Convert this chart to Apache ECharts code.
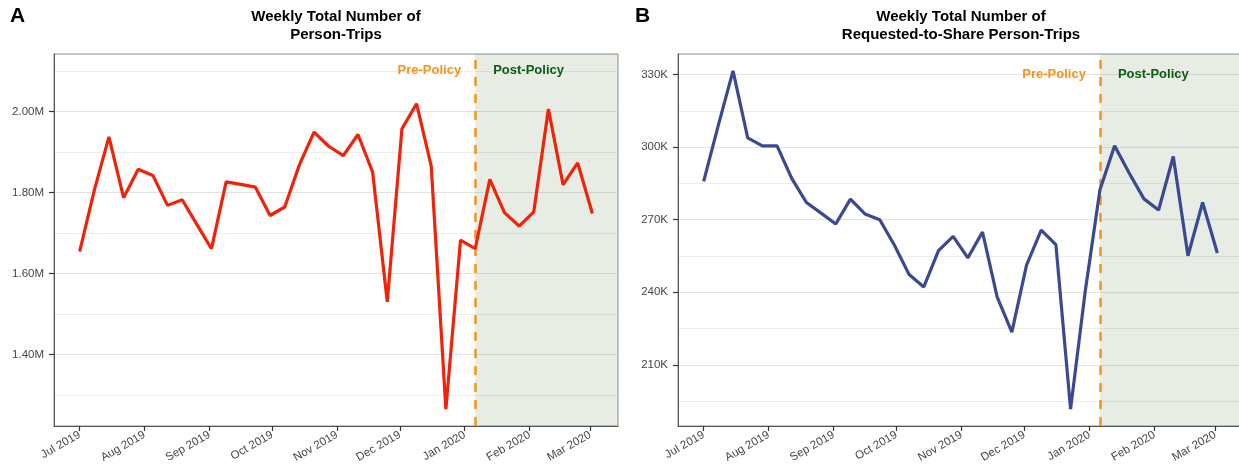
<!DOCTYPE html>
<html>
<head>
<meta charset="utf-8">
<script src="https://cdn.jsdelivr.net/npm/echarts@6/dist/echarts.min.js"></script>
<style>
  html, body { margin: 0; padding: 0; background: #ffffff; }
  #chart { width: 1239px; height: 471px; }
</style>
</head>
<body>
<div id="chart"></div>
<script>
// Week-starting dates (Mondays)
const weeks = [
  '2019-07-01','2019-07-08','2019-07-15','2019-07-22','2019-07-29',
  '2019-08-05','2019-08-12','2019-08-19','2019-08-26',
  '2019-09-02','2019-09-09','2019-09-16','2019-09-23','2019-09-30',
  '2019-10-07','2019-10-14','2019-10-21','2019-10-28',
  '2019-11-04','2019-11-11','2019-11-18','2019-11-25',
  '2019-12-02','2019-12-09','2019-12-16','2019-12-23','2019-12-30',
  '2020-01-06','2020-01-13','2020-01-20','2020-01-27',
  '2020-02-03','2020-02-10','2020-02-17','2020-02-24',
  '2020-03-02'
];

// Weekly total person-trips
const personTrips = [
  1654000, 1805000, 1937000, 1787000, 1857000,
  1842000, 1768000, 1782000, 1721000,
  1661000, 1826000, 1820000, 1813000, 1743000,
  1764000, 1868000, 1949000, 1914000,
  1891000, 1943000, 1850000, 1530000,
  1957000, 2019000, 1865000, 1265000, 1682000,
  1661000, 1832000, 1750000, 1717000,
  1752000, 2006000, 1819000, 1873000,
  1748000
];

// Weekly requested-to-share person-trips
const sharedTrips = [
  285800, 309100, 331500, 303800, 300500,
  300500, 287100, 277100, 272700,
  268200, 278500, 272300, 270000, 259400,
  247300, 242200, 257200, 263100,
  254200, 264900, 238000, 223500,
  251200, 265700, 259700, 191700, 240400,
  282300, 300600, 289200, 278600,
  274000, 296100, 255100, 277100,
  256200
];

const policyStart = '2020-01-06';

const monthTicks = ['2019-07-01','2019-08-01','2019-09-01','2019-10-01','2019-11-01',
                    '2019-12-01','2020-01-01','2020-02-01','2020-03-01'];
const monthLabels = ['Jul 2019','Aug 2019','Sep 2019','Oct 2019','Nov 2019',
                     'Dec 2019','Jan 2020','Feb 2020','Mar 2020'];

const tripMajor = [1400000, 1600000, 1800000, 2000000];
const tripMinor = [1300000, 1500000, 1700000, 1900000, 2100000];
const shareMajor = [210000, 240000, 270000, 300000, 330000];
const shareMinor = [195000, 225000, 255000, 285000, 315000];

// Height at which the period captions sit
const tripCaptionY = 2100000;
const shareCaptionY = 330000;

const titleA = 'Weekly Total Number of\nPerson-Trips';
const titleB = 'Weekly Total Number of\nRequested-to-Share Person-Trips';

// ---------------------------------------------------------------------------
const toTime = s => new Date(s + 'T00:00:00Z').getTime();
const weekTimes = weeks.map(toTime);
const policyTime = toTime(policyStart);
const monthTimes = monthTicks.map(toTime);

const xSpan = weekTimes[weekTimes.length - 1] - weekTimes[0];
const xMin = weekTimes[0] - 0.05 * xSpan;
const xMax = weekTimes[weekTimes.length - 1] + 0.05 * xSpan;

function padRange(vals, extra) {
  const lo = Math.min(...vals), hi = Math.max(...vals, extra);
  const pad = 0.05 * (hi - lo);
  return [lo - pad, hi + pad];
}
const tripRange = padRange(personTrips, tripCaptionY);
const shareRange = padRange(sharedTrips, shareCaptionY);

const FONT = '"Liberation Sans", Arial, Helvetica, sans-serif';
const ORANGE = '#F7921C';
const GREEN = '#0A5E0D';
const SHADE = 'rgba(60,100,40,0.12)';
const TEXT_GREY = '#474747';

const grids = [
  { left: 54, top: 54, width: 564, height: 372 },
  { left: 678, top: 54, width: 565, height: 372 }
];

function xAxisFor(gi) {
  return {
    type: 'value', gridIndex: gi, min: xMin, max: xMax,
    axisLine: { show: true, onZero: false, lineStyle: { color: '#555555', width: 1 } },
    axisTick: { show: true, length: 5, customValues: monthTimes, lineStyle: { color: '#333333', width: 1.2 } },
    axisLabel: {
      customValues: monthTimes, rotate: 30, margin: 8,
      fontFamily: FONT, fontSize: 11.5, color: TEXT_GREY,
      formatter: v => monthLabels[monthTimes.indexOf(v)]
    },
    splitLine: { show: false }
  };
}

function yAxisMajor(gi, range, major, fmt) {
  return {
    type: 'value', gridIndex: gi, min: range[0], max: range[1], position: 'left',
    axisLine: { show: true, lineStyle: { color: '#555555', width: 1 } },
    axisTick: { show: true, length: 5, customValues: major, lineStyle: { color: '#333333', width: 1.2 } },
    axisLabel: { customValues: major, margin: 10, fontFamily: FONT, fontSize: 11.5, color: TEXT_GREY, formatter: fmt },
    splitLine: { show: true, lineStyle: { color: '#E3E3E3', width: 1.2 } }
  };
}

function yAxisMinor(gi, range, minor) {
  return {
    type: 'value', gridIndex: gi, min: range[0], max: range[1], position: 'left',
    axisLine: { show: false },
    axisTick: { show: false, customValues: minor },
    axisLabel: { show: false },
    splitLine: { show: true, lineStyle: { color: '#EDEDED', width: 1 } }
  };
}

function trendSeries(xi, yi, values, color) {
  return {
    type: 'line', xAxisIndex: xi, yAxisIndex: yi,
    data: weekTimes.map((t, i) => [t, values[i]]),
    symbol: 'none', lineStyle: { color: color, width: 3.2 }, itemStyle: { color: color },
    z: 5, silent: true,
    markArea: {
      silent: true,
      itemStyle: { color: SHADE },
      data: [[{ xAxis: policyTime }, { xAxis: xMax }]]
    },
    markLine: {
      silent: true, symbol: 'none', animation: false,
      label: { show: false },
      lineStyle: { color: ORANGE, width: 2.5, type: [9, 8] },
      data: [{ xAxis: policyTime }]
    }
  };
}

function captionSeries(xi, yi, y, text, pos, dist, color) {
  return {
    type: 'scatter', xAxisIndex: xi, yAxisIndex: yi, silent: true,
    symbolSize: 0, z: 6,
    data: [[policyTime, y]],
    label: {
      show: true, position: pos, distance: dist, formatter: text,
      fontFamily: FONT, fontWeight: 'bold', fontSize: 13, color: color, opacity: 1
    }
  };
}

const chart = echarts.init(document.getElementById('chart'), null, { renderer: 'canvas' });
chart.setOption({
  animation: false,
  backgroundColor: '#ffffff',
  title: [
    { text: 'A', left: 10, top: 6, padding: 0, textStyle: { fontFamily: FONT, fontSize: 21, fontWeight: 'bold', color: '#000' } },
    { text: 'B', left: 635, top: 6, padding: 0, textStyle: { fontFamily: FONT, fontSize: 21, fontWeight: 'bold', color: '#000' } },
    { text: titleA, left: 336, top: 8, padding: 0, textAlign: 'center',
      textStyle: { fontFamily: FONT, fontSize: 15, fontWeight: 'bold', color: '#000', lineHeight: 18 } },
    { text: titleB, left: 961, top: 8, padding: 0, textAlign: 'center',
      textStyle: { fontFamily: FONT, fontSize: 15, fontWeight: 'bold', color: '#000', lineHeight: 18 } }
  ],
  grid: grids.map(g => Object.assign({
    show: true, borderColor: '#8C8C8C', borderWidth: 1, backgroundColor: 'transparent',
    outerBoundsMode: 'none'
  }, g)),
  xAxis: [xAxisFor(0), xAxisFor(1)],
  yAxis: [
    yAxisMajor(0, tripRange, tripMajor, v => (v / 1e6).toFixed(2) + 'M'),
    yAxisMinor(0, tripRange, tripMinor),
    yAxisMajor(1, shareRange, shareMajor, v => Math.round(v / 1e3) + 'K'),
    yAxisMinor(1, shareRange, shareMinor)
  ],
  series: [
    trendSeries(0, 0, personTrips, '#F2220A'),
    captionSeries(0, 0, tripCaptionY, 'Pre-Policy', 'left', 14, ORANGE),
    captionSeries(0, 0, tripCaptionY, 'Post-Policy', 'right', 18, GREEN),
    trendSeries(1, 2, sharedTrips, '#3B4992'),
    captionSeries(1, 2, shareCaptionY, 'Pre-Policy', 'left', 14, ORANGE),
    captionSeries(1, 2, shareCaptionY, 'Post-Policy', 'right', 18, GREEN)
  ]
});
</script>
</body>
</html>
